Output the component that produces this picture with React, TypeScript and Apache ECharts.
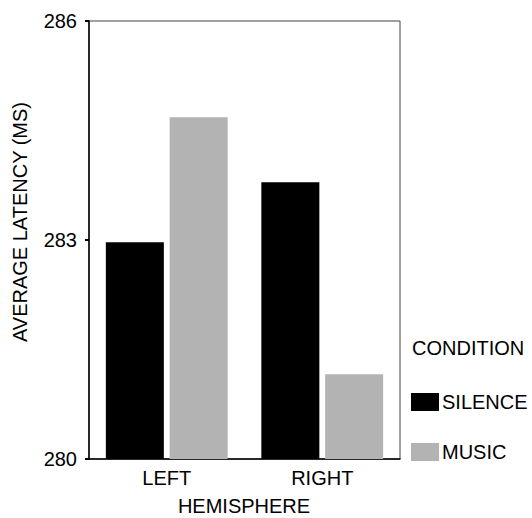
import React, { useEffect, useRef } from "react";
import * as echarts from "echarts";

const categories = ["LEFT", "RIGHT"];
const silence = [282.97, 283.79];
const music = [284.68, 281.16];
const yTicks = [280, 283, 286];

export default function App() {
  const ref = useRef<HTMLDivElement>(null);
  useEffect(() => {
    const chart = echarts.init(ref.current!, null, { renderer: "svg" });
    const font = "'Liberation Sans', Arial, sans-serif";
    chart.setOption({
      animation: false,
      textStyle: { fontFamily: font },
      grid: {
        left: 89,
        top: 21,
        right: 132,
        bottom: 59,
        show: true,
        borderColor: "#444",
        borderWidth: 1,
      },
      legend: {
        orient: "vertical",
        left: 411,
        top: 392,
        icon: "rect",
        itemWidth: 28,
        itemHeight: 18,
        itemGap: 30,
        padding: 0,
        itemStyle: { borderWidth: 0 },
        textStyle: { fontSize: 20, color: "#000", fontFamily: font, padding: [0, 0, 0, -2] },
        data: ["SILENCE", "MUSIC"],
      },
      xAxis: {
        type: "category",
        data: categories,
        axisLine: { lineStyle: { color: "#000", width: 1.5 } },
        axisTick: { alignWithLabel: true, length: 3, lineStyle: { color: "#000", width: 2 } },
        axisLabel: { fontSize: 20, color: "#000", margin: 9, fontFamily: font },
      },
      yAxis: {
        type: "value",
        min: yTicks[0],
        max: yTicks[yTicks.length - 1],
        interval: 3,
        splitLine: { show: false },
        axisLine: { show: true, lineStyle: { color: "#000", width: 1.5 } },
        axisTick: { show: true, length: 4, lineStyle: { color: "#000", width: 2 } },
        axisLabel: { fontSize: 20, color: "#000", margin: 12, fontFamily: font },
      },
      series: [
        {
          name: "SILENCE",
          type: "bar",
          data: silence,
          barWidth: 58,
          barGap: "10%",
          itemStyle: { color: "#000000" },
        },
        {
          name: "MUSIC",
          type: "bar",
          data: music,
          barWidth: 58,
          barGap: "10%",
          itemStyle: { color: "#b3b3b3" },
        },
      ],
      graphic: [
        {
          type: "text",
          x: 20,
          y: 222,
          rotation: Math.PI / 2,
          style: {
            text: "AVERAGE LATENCY (MS)",
            fontSize: 20,
            fontFamily: font,
            fill: "#000",
            align: "center",
            verticalAlign: "middle",
          },
        },
        {
          type: "text",
          x: 244,
          y: 506,
          style: {
            text: "HEMISPHERE",
            fontSize: 20,
            fontFamily: font,
            fill: "#000",
            align: "center",
            verticalAlign: "middle",
          },
        },
        {
          type: "text",
          x: 412,
          y: 348,
          style: {
            text: "CONDITION",
            fontSize: 20,
            fontFamily: font,
            fill: "#000",
            align: "left",
            verticalAlign: "middle",
          },
        },
      ],
    });
    return () => chart.dispose();
  }, []);
  return <div ref={ref} style={{ width: 532, height: 518, position: "absolute", left: 0, top: 0 }} />;
}
